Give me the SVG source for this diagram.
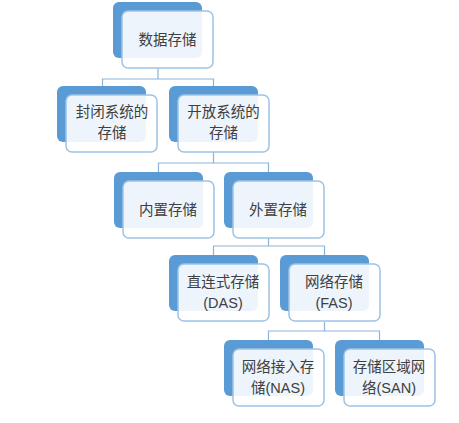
<svg xmlns="http://www.w3.org/2000/svg" width="459" height="423" viewBox="0 0 459 423">
<style>
.back{fill:#5b9bd5}
.front{fill:#ffffff;fill-opacity:0.89;stroke:#9dc3e6;stroke-width:1.5}
.t{font-family:"Liberation Sans","Noto Sans CJK SC",sans-serif;font-size:14.5px;fill:#404040;text-anchor:middle}
.c{fill:none;stroke:#8db3d9;stroke-width:1.2}
</style>
<rect width="459" height="423" fill="#ffffff"/>
<g id="connectors">
<path class="c" d="M158 68V79M102.5 86V79H213.5V86"/>
<path class="c" d="M213.5 152V163M158.5 172V163H268.5V172"/>
<path class="c" d="M268.5 238V246M213.5 255V246H324.5V255"/>
<path class="c" d="M324.5 322V331M268.5 340V331H379.5V340"/>
</g>
<g id="n1"><rect class="back" x="113" y="2" width="89" height="56" rx="6"/><rect class="front" x="122" y="11" width="91" height="57" rx="6"/><text class="t" x="167.5" y="45">数据存储</text></g>
<g id="n2"><rect class="back" x="57" y="86" width="89" height="56" rx="6"/><rect class="front" x="66" y="95" width="91" height="57" rx="6"/><text class="t" x="112" y="117">封闭系统的</text><text class="t" x="112" y="138">存储</text></g>
<g id="n3"><rect class="back" x="169" y="86" width="89" height="56" rx="6"/><rect class="front" x="178" y="95" width="91" height="57" rx="6"/><text class="t" x="223.5" y="117">开放系统的</text><text class="t" x="223.5" y="138">存储</text></g>
<g id="n4"><rect class="back" x="114" y="172" width="89" height="56" rx="6"/><rect class="front" x="123" y="181" width="91" height="57" rx="6"/><text class="t" x="168" y="215">内置存储</text></g>
<g id="n5"><rect class="back" x="224" y="172" width="89" height="56" rx="6"/><rect class="front" x="233" y="181" width="91" height="57" rx="6"/><text class="t" x="278" y="215">外置存储</text></g>
<g id="n6"><rect class="back" x="169" y="255" width="89" height="56" rx="6"/><rect class="front" x="178" y="264" width="91" height="57" rx="6"/><text class="t" x="223" y="287">直连式存储</text><text class="t" x="223" y="308">(DAS)</text></g>
<g id="n7"><rect class="back" x="280" y="255" width="89" height="56" rx="6"/><rect class="front" x="289" y="264" width="91" height="57" rx="6"/><text class="t" x="334" y="287">网络存储</text><text class="t" x="334" y="308">(FAS)</text></g>
<g id="n8"><rect class="back" x="224" y="340" width="89" height="56" rx="6"/><rect class="front" x="233" y="349" width="91" height="57" rx="6"/><text class="t" x="278" y="372">网络接入存</text><text class="t" x="278" y="393">储(NAS)</text></g>
<g id="n9"><rect class="back" x="335" y="340" width="89" height="56" rx="6"/><rect class="front" x="344" y="349" width="91" height="57" rx="6"/><text class="t" x="389" y="372">存储区域网</text><text class="t" x="389" y="393">络(SAN)</text></g>
</svg>
